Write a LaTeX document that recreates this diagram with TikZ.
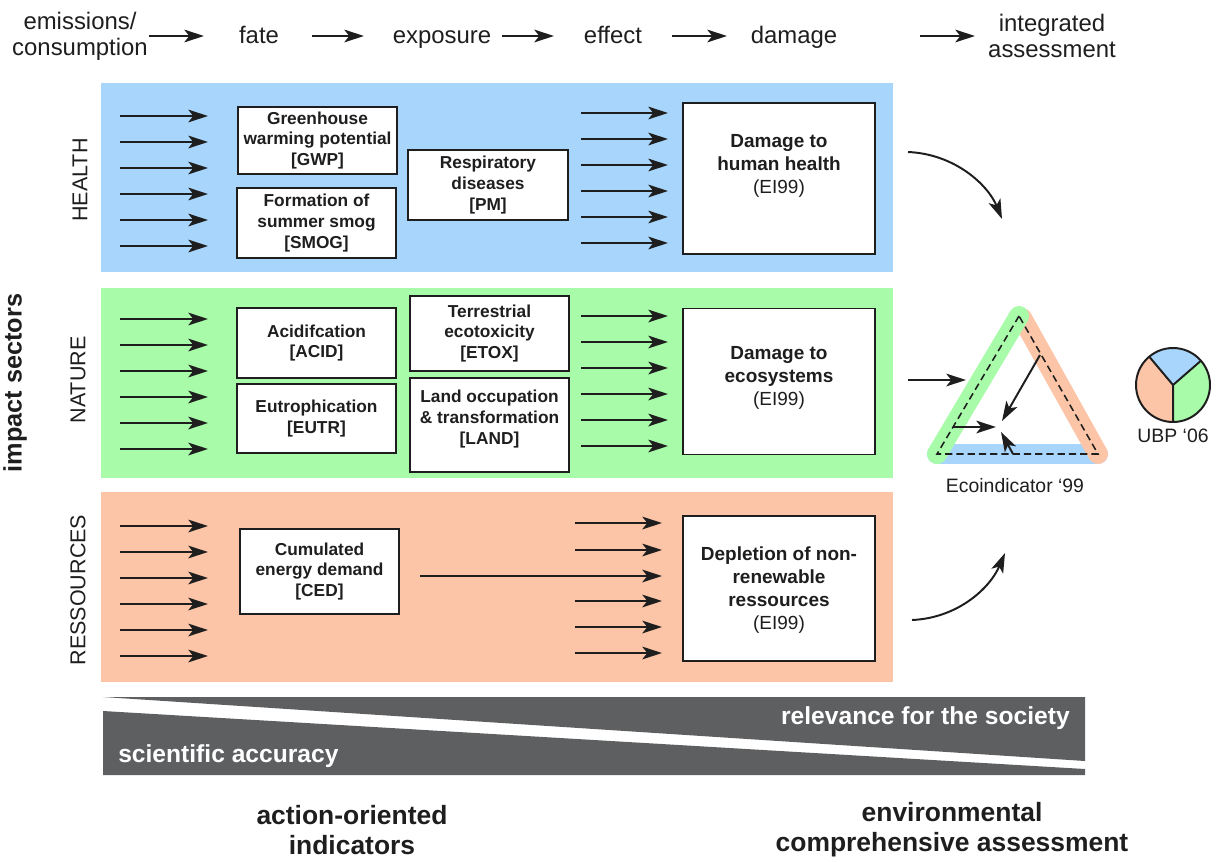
\documentclass[tikz,border=0pt]{standalone}
\usepackage{fontspec}
\setmainfont{Liberation Sans}
\usetikzlibrary{arrows.meta}
\definecolor{hb}{HTML}{A8D5FB}
\definecolor{ng}{HTML}{A8FBA8}
\definecolor{ro}{HTML}{FDC5A8}
\definecolor{wedge}{HTML}{5E5F61}
\definecolor{ink}{HTML}{1E1E1E}
\newcommand\fsz[2]{\fontsize{#1pt}{#2pt}\selectfont}
\begin{document}
\begin{tikzpicture}[x=0.025cm,y=-0.025cm,
  arr/.style={-{Stealth[length=14pt,width=9pt,inset=3.5pt]}, line width=1.4pt, draw=ink},
  wh/.style 2 args={minimum width=#1*0.025cm, minimum height=#2*0.025cm},
  box/.style={draw=ink, line width=1.4pt, fill=white, inner sep=0pt, align=center, text=ink, font=\fsz{12.3}{14.6}\bfseries},
  dtext/.style={align=center, text=ink, font=\fsz{13.5}{16.4}\bfseries},
  toplab/.style={text=ink, font=\fsz{17}{18.5}, align=center, inner sep=0pt},
  sector/.style={text=ink, font=\fsz{15.3}{18}, rotate=90, inner sep=0pt},
  bottomlab/.style={text=ink, font=\fsz{18.8}{21.5}\bfseries, align=center, inner sep=0pt},
  band/.style={line width=14.2pt, line cap=round}
]
\useasboundingbox (0,0) rectangle (1220,861);

% ---------- top row ----------
\node[toplab] (t1) at (80,36) {emissions/\\consumption};
\node[toplab, anchor=base] (t2) at (259,43) {fate};
\node[toplab, anchor=base] (t3) at (442,43) {exposure};
\node[toplab, anchor=base] (t4) at (613,43) {effect};
\node[toplab, anchor=base] (t5) at (794,43) {damage};
\node[toplab] (t6) at (1052,36) {integrated\\assessment};
\draw[arr] (149,36) -- (204,36);
\draw[arr] (312,36) -- (364,36);
\draw[arr] (502,36) -- (554,36);
\draw[arr] (672,36) -- (727,36);
\draw[arr] (920,36) -- (975,36);

% ---------- bands ----------
\fill[hb] (101,83) rectangle (893,272);
\fill[ng] (101,288) rectangle (893,478);
\fill[ro] (101,492) rectangle (893,682);

\node[sector] (lh) at (80,180) {HEALTH};
\node[sector] (ln) at (78,380) {NATURE};
\node[sector] (lr) at (78,590) {RESSOURCES};
\node[text=ink, font=\fsz{18}{20}\bfseries, rotate=90, inner sep=0pt] (imp) at (15,383) {impact sectors};

% ---------- left arrow bundles ----------
\foreach \y in {116,142,168,194,220,246} \draw[arr] (120,\y) -- (208,\y);
\foreach \y in {319,345,371,397,423,449} \draw[arr] (120,\y) -- (208,\y);
\foreach \y in {526,552,578,604,630,656} \draw[arr] (120,\y) -- (208,\y);

% ---------- right arrow bundles ----------
\foreach \y in {113,139,165,191,217,243} \draw[arr] (581,\y) -- (668,\y);
\foreach \y in {316,342,368,394,420,446} \draw[arr] (581,\y) -- (668,\y);
\foreach \y in {523,550,601,627,653} \draw[arr] (575,\y) -- (662,\y);

% ---------- health boxes ----------
\node[box, wh={159}{67}] (gwp) at (317.5,140.5) {Greenhouse\\warming potential\\{[}GWP{]}};
\node[box, wh={159}{70}] (smog) at (316.5,223) {Formation of\\summer smog\\{[}SMOG{]}};
\node[box, wh={160}{70}] (pm) at (488,185) {Respiratory\\diseases\\{[}PM{]}};
\node[box, wh={192}{151}] (dmgh) at (779,178.5) {};
\node[dtext] (dmght) at (779,166) {Damage to\\human health\\\mdseries(EI99)};

% ---------- nature boxes ----------
\node[box, wh={159}{70}] (acid) at (316.5,343) {Acidifcation\\{[}ACID{]}};
\node[box, wh={159}{69}] (eutr) at (316.5,418.5) {Eutrophication\\{[}EUTR{]}};
\node[box, wh={159}{75}] (etox) at (489.5,333.5) {Terrestrial\\ecotoxicity\\{[}ETOX{]}};
\node[box, wh={159}{94}] (land) at (489.5,425) {};
\node[box, draw=none, fill=none] (landt) at (489.5,419) {Land occupation\\\&~transformation\\{[}LAND{]}};
\node[box, wh={192}{146}] (dmgn) at (779,381.5) {};
\node[dtext] (dmgnt) at (779,378) {Damage to\\ecosystems\\\mdseries(EI99)};

% ---------- resources boxes ----------
\node[box, wh={159}{85}] (ced) at (319.5,571.5) {Cumulated\\energy demand\\{[}CED{]}};
\node[box, wh={192}{145}] (dmgr) at (779,588.5) {};
\node[dtext] (dmgrt) at (779,590) {Depletion of non-\\renewable\\ressources\\\mdseries(EI99)};
\coordinate (cedend) at (420,576);
\draw[arr] (cedend) -- (662,576);

% ---------- curved arrows ----------
\coordinate (ch1) at (908,152);
\coordinate (ch2) at (1002,219);
\draw[arr] (ch1) .. controls (955,154) and (988,185) .. (ch2);
\coordinate (cr1) at (912,620);
\coordinate (cr2) at (1005,553);
\draw[arr] (cr1) .. controls (958,618) and (990,588) .. (cr2);
\coordinate (cn1) at (908,380);
\coordinate (cn2) at (966,380);
\draw[arr] (cn1) -- (cn2);

% ---------- triangle ----------
\coordinate (ta) at (1019,316);
\coordinate (tl) at (937,454);
\coordinate (tr) at (1098,454);
\draw[band, hb] (tl) -- (tr);
\draw[band, ro] (1022,318) -- (tr);
\draw[band, ng] (ta) -- (tl);
\draw[ink, line width=1.1pt, dash pattern=on 5pt off 3pt] (ta) -- (tl) -- (tr) -- cycle;
\coordinate (cc) at (999,427);
\draw[arr] (1040,355) -- (1002,421);
\draw[arr] (953,427) -- (996,427);
\draw[arr] (1013,454) -- (1001,432);
\node[text=ink, font=\fsz{13.8}{16}] (eco) at (1015,486) {Ecoindicator ‘99};

% ---------- pie ----------
\begin{scope}[shift={(1173,385)}, y=0.025cm]
  \fill[hb] (0,0) -- (41:37) arc (41:130:37) -- cycle;
  \fill[ro] (0,0) -- (130:37) arc (130:270:37) -- cycle;
  \fill[ng] (0,0) -- (270:37) arc (270:401:37) -- cycle;
  \draw[ink, line width=1.4pt] (0,0) circle (37);
  \draw[ink, line width=1.4pt] (41:37) -- (0,0) -- (130:37) (0,0) -- (270:37);
\end{scope}
\node[text=ink, font=\fsz{13.8}{16}] (ubp) at (1173,436) {UBP ‘06};

% ---------- wedge ----------
\fill[wedge] (103,697) -- (1085,697) -- (1085,761) -- cycle;
\fill[wedge] (103,711) -- (1085,769) -- (1085,775) -- (103,775) -- cycle;
\node[text=white, font=\fsz{17.5}{20}\bfseries, anchor=east, inner sep=0pt] (rel) at (1070,718) {relevance for the society};
\node[text=white, font=\fsz{17.5}{20}\bfseries, anchor=west, inner sep=0pt] (sci) at (118,756) {scientific accuracy};

% ---------- bottom labels ----------
\node[bottomlab] (b1) at (352,830) {action-oriented\\indicators};
\node[bottomlab] (b2) at (952,830) {environmental\\comprehensive assessment};
\end{tikzpicture}
\end{document}
